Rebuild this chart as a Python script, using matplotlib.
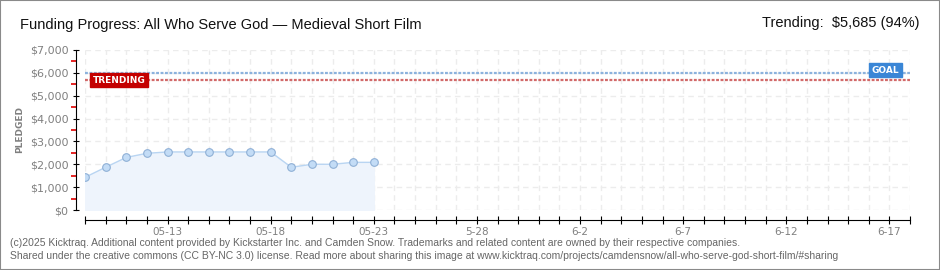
import pandas as pd
import matplotlib.pyplot as plt
import numpy as np

# data
dates = ['2025-05-09', '2025-05-10', '2025-05-11', '2025-05-12', '2025-05-13',
         '2025-05-14', '2025-05-15', '2025-05-16', '2025-05-17', '2025-05-18',
         '2025-05-19', '2025-05-20', '2025-05-21', '2025-05-22', '2025-05-23']
pledged = [1430, 1870, 2300, 2480, 2540, 2540, 2540, 2540, 2540, 2540,
           1870, 2000, 2000, 2085, 2085]
goal = 6000
trending = 5685
start_date = '2025-05-09'
end_date = '2025-06-18'
label_dates = ['2025-05-13', '2025-05-18', '2025-05-23', '2025-05-28',
               '2025-06-02', '2025-06-07', '2025-06-12', '2025-06-17']
label_text = ['05-13', '05-18', '05-23', '5-28', '6-2', '6-7', '6-12', '6-17']
yticks = [0, 1000, 2000, 3000, 4000, 5000, 6000, 7000]
ytick_labels = ['$0', '$1,000', '$2,000', '$3,000', '$4,000', '$5,000', '$6,000', '$7,000']

fam = ['Liberation Sans', 'DejaVu Sans']
grey = '#808080'

x = pd.to_datetime(dates)
x0 = pd.to_datetime(start_date)
x1 = pd.to_datetime(end_date)
days = pd.date_range(x0, x1, freq='D')

fig = plt.figure(figsize=(9.4, 2.7), dpi=100)
ax = fig.add_axes([85/940, 60/270, 825/940, 160/270])

# grid
for d in days:
    ax.axvline(d, color='#ececec', lw=1, dashes=(4, 3), zorder=0)
for v in yticks:
    ax.axhline(v, color='#ececec', lw=1, dashes=(4, 3), zorder=0)

# goal / trending lines
ax.plot([x0, x1], [goal, goal], color='#8cb2dd', lw=1.6, dashes=(1.3, 0.7), zorder=2)
ax.plot([x0, x1], [trending, trending], color='#d26a6a', lw=1.6, dashes=(1.3, 0.7), zorder=2)

# pledged series
ax.fill_between(x, pledged, 0, color='#eef4fc', zorder=1)
ax.plot(x, pledged, color='#b9d5f2', lw=1, zorder=3)
ax.plot(x, pledged, 'o', ms=5.5, mfc='#c3dcf6', mec='#8fb0d6', mew=0.8, zorder=4)

ax.set_xlim(x0, x1)
ax.set_ylim(0, 7000)

# labels on the lines
ax.text(pd.to_datetime('2025-05-09 09:00'), trending, 'TRENDING', color='white',
        fontsize=6.5, fontweight='bold', va='center', ha='left', zorder=5,
        bbox=dict(boxstyle='square,pad=0.3', fc='#c40000', ec='#c40000'))
ax.text(pd.to_datetime('2025-06-16 03:00'), goal + 120, 'GOAL', color='white',
        fontsize=6.5, fontweight='bold', va='center', ha='left', zorder=5,
        bbox=dict(boxstyle='square,pad=0.3', fc='#3a86d6', ec='#3a86d6'))

# axes styling
for s in ['top', 'right']:
    ax.spines[s].set_visible(False)
ax.spines['left'].set_position(('outward', 6.5))
ax.spines['bottom'].set_position(('outward', 7.2))

ax.set_yticks(yticks)
ax.set_yticklabels(ytick_labels)
ax.set_yticks(np.arange(500, 7000, 1000), minor=True)
ax.tick_params(axis='y', which='major', direction='inout', length=5, color='black',
               labelsize=8, labelcolor=grey, pad=3)
ax.tick_params(axis='y', which='minor', direction='out', length=3.5, width=1.2,
               color='#e00000')

tick_text = []
lab = dict(zip(pd.to_datetime(label_dates), label_text))
for d in days:
    tick_text.append(lab.get(d, ''))
ax.set_xticks(days)
ax.set_xticklabels(tick_text)
ax.tick_params(axis='x', which='major', direction='inout', length=6, color='black',
               labelsize=7.5, labelcolor=grey, pad=2)

fig.text(20/940, 1 - 130/270, 'PLEDGED', rotation=90, fontsize=6.5, color=grey,
         ha='center', va='center', fontweight='bold')

# header
fig.text(20/940, 1 - 25/270, 'Funding Progress: All Who Serve God \u2014 Medieval Short Film',
         fontsize=10.5, family=fam, color='#111111', va='center', ha='left')
fig.text(920/940, 1 - 23/270, 'Trending:  $5,685 (94%)', fontsize=10.5, family=fam,
         color='#111111', va='center', ha='right')

# footer
fig.text(10/940, 1 - 243/270, '(c)2025 Kicktraq. Additional content provided by Kickstarter Inc. and Camden Snow. '
         'Trademarks and related content are owned by their respective companies.',
         fontsize=7.5, family=fam, color='#666666', va='center', ha='left')
fig.text(10/940, 1 - 256/270, 'Shared under the creative commons (CC BY-NC 3.0) license. Read more about sharing '
         'this image at www.kicktraq.com/projects/camdensnow/all-who-serve-god-short-film/#sharing',
         fontsize=7.5, family=fam, color='#666666', va='center', ha='left')

# frame
fig.patches.append(plt.Rectangle((0, 0), 1, 1, transform=fig.transFigure, fill=False,
                                 ec='#8a8a8a', lw=1.5))

fig.savefig('out.png', dpi=100)
